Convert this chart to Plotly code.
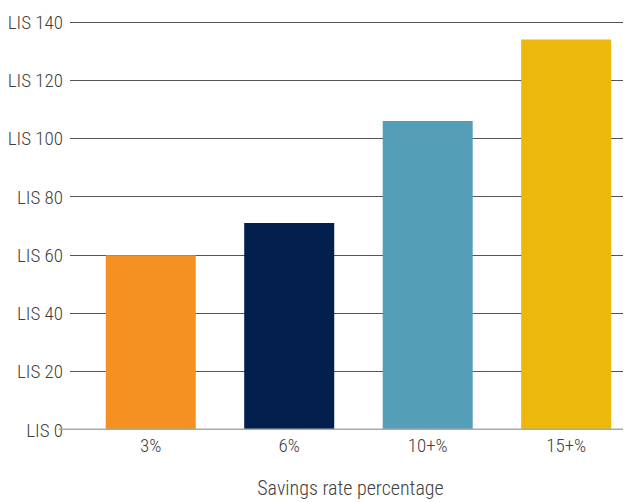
import plotly.graph_objects as go

categories = ["3%", "6%", "10+%", "15+%"]
values = [60, 71, 106, 134]
colors = ["#F59120", "#021F4E", "#549FB7", "#EDB80C"]
y_ticks = [0, 20, 40, 60, 80, 100, 120, 140]
y_labels = ["LIS " + str(v) for v in y_ticks]

FONT = "Roboto Condensed, Liberation Sans Narrow, DejaVu Sans Condensed, sans-serif"

fig = go.Figure(go.Bar(x=categories, y=values, marker=dict(color=colors, line=dict(width=0)), width=0.65))

fig.update_layout(
    width=623, height=494,
    margin=dict(l=55, r=0, t=13, b=72),
    paper_bgcolor="white", plot_bgcolor="white",
    font=dict(family=FONT, size=19, color="#404040", weight=300),
    showlegend=False,
    xaxis=dict(range=[-0.583, 3.468], showgrid=False, showline=False, zeroline=False,
               ticks="", ticklabelstandoff=2,
               title=dict(text="Savings rate percentage", standoff=24, font=dict(size=20))),
    yaxis=dict(range=[0, 140.35], tickvals=y_ticks, ticktext=y_labels, showgrid=True,
               gridcolor="#555555", gridwidth=1, zeroline=False, showline=False,
               ticks="", ticklabelstandoff=6),
)
fig.add_shape(type="line", xref="paper", yref="y", x0=-0.02, x1=1, y0=0, y1=0,
              line=dict(color="#A7A9AC", width=3), layer="above")

fig.write_html("out.html")
